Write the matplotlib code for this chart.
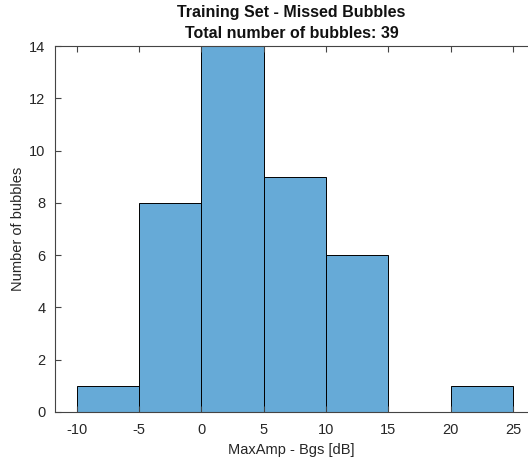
import numpy as np
import matplotlib
matplotlib.use("Agg")
import matplotlib.pyplot as plt

plt.rcParams['font.family'] = ['Liberation Sans', 'DejaVu Sans']
plt.rcParams['axes.unicode_minus'] = False

# histogram bins and counts
bin_edges = [-10, -5, 0, 5, 10, 15, 20, 25]
counts = [1, 8, 14, 9, 6, 0, 1]
xticks = [-10, -5, 0, 5, 10, 15, 20, 25]
yticks = [0, 2, 4, 6, 8, 10, 12, 14]

fig = plt.figure(figsize=(5.28, 4.61), dpi=100)
ax = fig.add_axes([0.1042, 0.1063, 0.8958, 0.7939])

edges = np.array(bin_edges)
ax.bar(edges[:-1], counts, width=np.diff(edges), align='edge',
       color='#66AAD7', edgecolor='black', linewidth=0.7)

ax.set_xlim(-11.73, 26.2)
ax.set_ylim(0, 14)
ax.set_xticks(xticks)
ax.set_yticks(yticks)

axcol = '#444444'
for s in ['left', 'bottom', 'top']:
    ax.spines[s].set_color(axcol)
    ax.spines[s].set_linewidth(0.8)
ax.spines['right'].set_visible(False)
ax.tick_params(direction='in', length=4, width=0.8, color=axcol,
               labelsize=10.5, labelcolor='#262626', top=True)
ax.tick_params(axis='x', pad=8)
ax.tick_params(axis='y', pad=7)

ax.set_xlabel('MaxAmp - Bgs [dB]', fontsize=10.5, color='#262626', labelpad=4)
ax.set_ylabel('Number of bubbles', fontsize=10.5, color='#262626', labelpad=3)
ax.set_title('Training Set - Missed Bubbles\nTotal number of bubbles: 39',
             fontsize=11.5, fontweight='bold', color='#111111', pad=6,
             linespacing=1.45)

fig.savefig('out.png', dpi=100)
